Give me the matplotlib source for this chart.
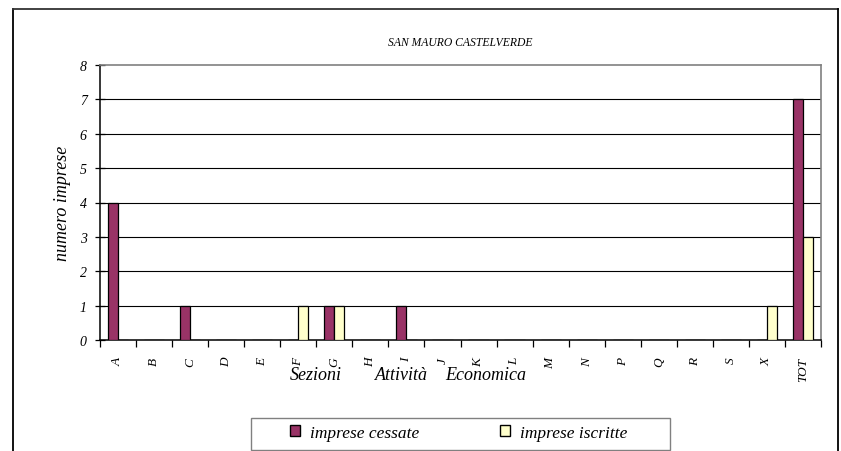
import matplotlib.pyplot as plt
from matplotlib.lines import Line2D
from matplotlib.patches import Patch, Rectangle
import numpy as np

plt.rcParams['font.family'] = ['Liberation Serif', 'DejaVu Serif']
plt.rcParams['font.style'] = 'italic'

# data
sezioni = ["A", "B", "C", "D", "E", "F", "G", "H", "I", "J", "K", "L",
           "M", "N", "P", "Q", "R", "S", "X", "TOT"]
cessate = [4, 0, 1, 0, 0, 0, 1, 0, 1, 0, 0, 0, 0, 0, 0, 0, 0, 0, 0, 7]
iscritte = [0, 0, 0, 0, 0, 1, 1, 0, 0, 0, 0, 0, 0, 0, 0, 0, 0, 0, 1, 3]

W, H = 841, 452
fig = plt.figure(figsize=(W / 100, H / 100), dpi=100)
ax = fig.add_axes([100 / W, 1 - 341 / H, 721 / W, 275 / H])

x = np.arange(len(sezioni))
bw = 0.28
ax.bar(x - bw / 2, cessate, bw, color='#993366', edgecolor='black', linewidth=0.9, zorder=3)
ax.bar(x + bw / 2, iscritte, bw, color='#FFFFCC', edgecolor='black', linewidth=0.9, zorder=3)

ax.set_xlim(-0.5, len(sezioni) - 0.5)
ax.set_ylim(0, 8)
ax.hlines(range(1, 8), -0.5, len(sezioni) - 0.5, color='black', linewidth=0.8, zorder=1)

ax.set_yticks(range(0, 9))
ax.set_yticklabels([str(v) for v in range(0, 9)], fontsize=10)
ax.tick_params(axis='y', direction='inout', length=7, width=0.9, pad=6)

ax.set_xticks(x)
ax.set_xticklabels(sezioni, rotation=90, fontsize=9.5)
ax.set_xticks(np.arange(-0.5, len(sezioni)), minor=True)
ax.tick_params(axis='x', which='major', length=0, pad=12)
ax.tick_params(axis='x', which='minor', length=5, width=0.9, direction='out')

for s in ['left', 'bottom']:
    ax.spines[s].set_linewidth(1.1)
for s in ['top', 'right']:
    ax.spines[s].set_color('#808080')
    ax.spines[s].set_linewidth(1.2)

ax.set_ylabel("numero imprese", fontsize=13, labelpad=6)
for word, xl in [("Sezioni", 290), ("Attività", 375), ("Economica", 445)]:
    fig.text(xl / W, 1 - 376 / H, word, fontsize=13, ha='left', va='center')
fig.text(460 / W, 1 - 43 / H, "SAN MAURO CASTELVERDE", fontsize=8.4,
         ha='center', va='center')

handles = [Patch(facecolor='#993366', edgecolor='black', label='imprese cessate'),
           Patch(facecolor='#FFFFCC', edgecolor='black', label='imprese iscritte')]
leg = fig.legend(handles=handles, loc='center left', bbox_to_anchor=(290 / W, 1 - 434 / H),
                 ncol=2, fontsize=12.5, frameon=False, borderpad=0, borderaxespad=0,
                 handlelength=0.6, handleheight=0.6, handletextpad=0.55, columnspacing=4.65)
fig.add_artist(Rectangle((250.5 / W, 1 - 450.5 / H), 419 / W, 32 / H, transform=fig.transFigure,
                         fill=False, edgecolor='#808080', linewidth=1.0))

# outer chart border (open at the bottom)
fig.add_artist(Line2D([12.5 / W, 12.5 / W], [0, 1 - 9.5 / H], color='black', lw=1.3))
fig.add_artist(Line2D([12.5 / W, 837.5 / W], [1 - 9.5 / H, 1 - 9.5 / H], color='#333333', lw=1.3))
fig.add_artist(Line2D([837.5 / W, 837.5 / W], [0, 1 - 9.5 / H], color='black', lw=1.3))

fig.savefig("out.png", dpi=100)
